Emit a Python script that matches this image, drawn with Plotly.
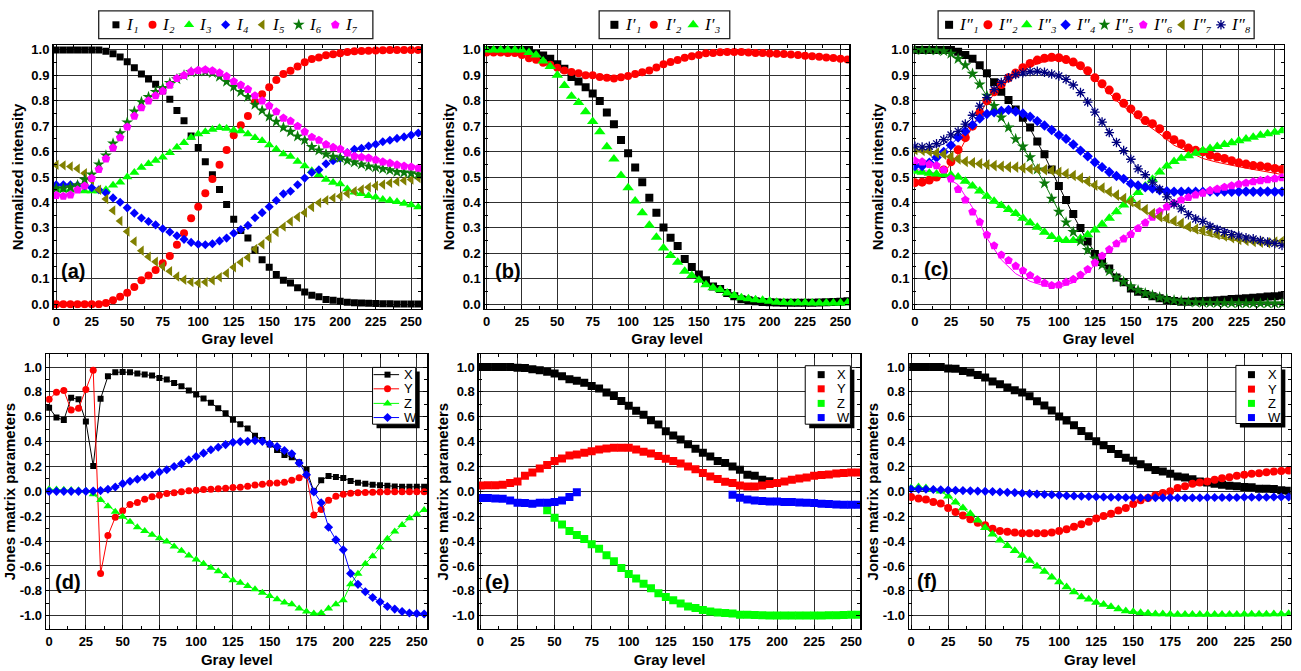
import plotly.graph_objects as go

FIG_W, FIG_H = 1301, 671

# ---------------- data ----------------
GRAY = list(range(0, 256, 5))
FIT_GRAY = list(range(0, 251, 10)) + [255]

X_TICKS = [0, 25, 50, 75, 100, 125, 150, 175, 200, 225, 250]
X_TICK_TEXT = ['0', '25', '50', '75', '100', '125', '150', '175', '200', '225', '250']
Y_TICKS_TOP = [0.0, 0.1, 0.2, 0.3, 0.4, 0.5, 0.6, 0.7, 0.8, 0.9, 1.0]
Y_TICK_TEXT_TOP = ['0.0', '0.1', '0.2', '0.3', '0.4', '0.5', '0.6', '0.7', '0.8', '0.9', '1.0']
Y_TICKS_BOTTOM = [-1.0, -0.8, -0.6, -0.4, -0.2, 0.0, 0.2, 0.4, 0.6, 0.8, 1.0]
Y_TICK_TEXT_BOTTOM = ['-1.0', '-0.8', '-0.6', '-0.4', '-0.2', '0.0', '0.2', '0.4', '0.6', '0.8', '1.0']

LABELS_A = ['I₁', 'I₂', 'I₃', 'I₄', 'I₅', 'I₆', 'I₇']
LABELS_B = ['I′₁', 'I′₂', 'I′₃']
LABELS_C = ['I″₁', 'I″₂', 'I″₃', 'I″₄', 'I″₅', 'I″₆', 'I″₇', 'I″₈']
LABELS_JONES = ['X', 'Y', 'Z', 'W']

# panel (a)
A_I1 = [1.0, 1.0, 1.0, 1.0, 1.0, 1.0, 1.0, 0.995, 0.985, 0.972,
        0.953, 0.93, 0.905, 0.886, 0.865, 0.839, 0.806, 0.762, 0.721, 0.661,
        0.616, 0.56, 0.509, 0.451, 0.392, 0.334, 0.29, 0.26, 0.213, 0.175,
        0.145, 0.117, 0.094, 0.083, 0.065, 0.048, 0.035, 0.029, 0.019, 0.016,
        0.012, 0.008, 0.006, 0.005, 0.004, 0.003, 0.002, 0.002, 0.001, 0.001,
        0.001, 0.001]
A_I2 = [0.0, 0.0, 0.0, 0.0, 0.0, 0.0, 0.0, 0.005, 0.016, 0.029,
        0.045, 0.068, 0.094, 0.113, 0.135, 0.161, 0.19, 0.234, 0.279, 0.338,
        0.383, 0.436, 0.492, 0.548, 0.606, 0.664, 0.704, 0.74, 0.795, 0.826,
        0.853, 0.882, 0.905, 0.918, 0.935, 0.951, 0.964, 0.97, 0.979, 0.983,
        0.987, 0.992, 0.995, 0.996, 0.997, 0.998, 0.999, 1.0, 1.0, 1.0,
        1.0, 1.0]
A_I3 = [0.455, 0.45, 0.45, 0.448, 0.445, 0.445, 0.445, 0.45, 0.468, 0.48,
        0.5, 0.518, 0.538, 0.552, 0.565, 0.578, 0.596, 0.617, 0.635, 0.656,
        0.669, 0.678, 0.687, 0.694, 0.691, 0.684, 0.681, 0.669, 0.655, 0.643,
        0.626, 0.609, 0.591, 0.581, 0.561, 0.543, 0.525, 0.509, 0.49, 0.479,
        0.473, 0.453, 0.44, 0.434, 0.427, 0.421, 0.412, 0.408, 0.403, 0.396,
        0.39, 0.382]
A_I4 = [0.47, 0.47, 0.47, 0.468, 0.465, 0.458, 0.45, 0.438, 0.418, 0.401,
        0.379, 0.358, 0.339, 0.325, 0.312, 0.297, 0.284, 0.269, 0.255, 0.243,
        0.236, 0.234, 0.238, 0.249, 0.26, 0.279, 0.294, 0.31, 0.34, 0.36,
        0.383, 0.408, 0.434, 0.444, 0.47, 0.496, 0.518, 0.529, 0.552, 0.564,
        0.574, 0.596, 0.609, 0.613, 0.622, 0.629, 0.639, 0.645, 0.652, 0.658,
        0.665, 0.673]
A_I5 = [0.548, 0.546, 0.542, 0.533, 0.515, 0.488, 0.45, 0.414, 0.369, 0.327,
        0.286, 0.247, 0.21, 0.187, 0.167, 0.149, 0.13, 0.109, 0.096, 0.087,
        0.083, 0.087, 0.094, 0.106, 0.122, 0.145, 0.165, 0.184, 0.217, 0.236,
        0.26, 0.284, 0.305, 0.325, 0.343, 0.36, 0.382, 0.399, 0.409, 0.418,
        0.425, 0.435, 0.444, 0.451, 0.46, 0.466, 0.471, 0.477, 0.482, 0.486,
        0.49, 0.496]
A_I6 = [0.455, 0.455, 0.46, 0.468, 0.49, 0.51, 0.55, 0.585, 0.632, 0.672,
        0.715, 0.758, 0.795, 0.815, 0.835, 0.85, 0.87, 0.885, 0.9, 0.912,
        0.917, 0.915, 0.91, 0.895, 0.875, 0.855, 0.835, 0.815, 0.785, 0.762,
        0.738, 0.718, 0.695, 0.678, 0.66, 0.645, 0.618, 0.605, 0.59, 0.58,
        0.575, 0.565, 0.558, 0.55, 0.542, 0.538, 0.532, 0.527, 0.52, 0.518,
        0.515, 0.51]
A_I7 = [0.428, 0.425, 0.43, 0.45, 0.465, 0.495, 0.53, 0.572, 0.615, 0.655,
        0.697, 0.74, 0.773, 0.8, 0.82, 0.838, 0.862, 0.888, 0.9, 0.915,
        0.92, 0.922, 0.918, 0.91, 0.896, 0.876, 0.862, 0.845, 0.82, 0.8,
        0.78, 0.757, 0.732, 0.72, 0.7, 0.678, 0.657, 0.645, 0.628, 0.617,
        0.61, 0.595, 0.582, 0.578, 0.575, 0.568, 0.56, 0.555, 0.548, 0.543,
        0.54, 0.535]

# panel (b)
B_I1 = [1.0, 1.0, 1.0, 1.0, 1.0, 1.0, 1.0, 0.984, 0.978, 0.965,
        0.944, 0.926, 0.893, 0.876, 0.853, 0.829, 0.799, 0.754, 0.708, 0.646,
        0.594, 0.538, 0.48, 0.419, 0.36, 0.302, 0.261, 0.229, 0.178, 0.146,
        0.117, 0.094, 0.07, 0.06, 0.044, 0.031, 0.02, 0.016, 0.012, 0.009,
        0.008, 0.007, 0.006, 0.006, 0.006, 0.006, 0.006, 0.007, 0.008, 0.009,
        0.01, 0.012]
B_I2 = [0.99, 0.99, 0.99, 0.988, 0.988, 0.98, 0.967, 0.961, 0.949, 0.942,
        0.93, 0.919, 0.913, 0.908, 0.9, 0.9, 0.893, 0.89, 0.888, 0.892,
        0.897, 0.905, 0.912, 0.919, 0.931, 0.944, 0.952, 0.96, 0.969, 0.975,
        0.98, 0.987, 0.988, 0.991, 0.992, 0.992, 0.992, 0.99, 0.988, 0.988,
        0.986, 0.985, 0.984, 0.982, 0.98, 0.977, 0.975, 0.973, 0.97, 0.968,
        0.965, 0.962]
B_I3 = [1.0, 1.0, 1.0, 1.0, 1.0, 1.0, 0.99, 0.98, 0.956, 0.935,
        0.9, 0.86, 0.818, 0.793, 0.757, 0.718, 0.678, 0.619, 0.571, 0.506,
        0.458, 0.406, 0.36, 0.311, 0.263, 0.221, 0.192, 0.165, 0.13, 0.113,
        0.094, 0.077, 0.065, 0.057, 0.044, 0.034, 0.025, 0.022, 0.018, 0.016,
        0.012, 0.008, 0.007, 0.006, 0.006, 0.006, 0.005, 0.005, 0.005, 0.005,
        0.005, 0.006]

# panel (c) measured points
C_I1 = [1.0, 1.0, 1.0, 1.0, 1.0, 1.0, 0.993, 0.98, 0.965, 0.94,
        0.908, 0.873, 0.835, 0.803, 0.766, 0.733, 0.695, 0.64, 0.59, 0.53,
        0.465, 0.41, 0.355, 0.3, 0.247, 0.197, 0.166, 0.14, 0.105, 0.086,
        0.062, 0.049, 0.04, 0.031, 0.023, 0.017, 0.013, 0.01, 0.01, 0.012,
        0.013, 0.014, 0.016, 0.018, 0.021, 0.022, 0.023, 0.025, 0.027, 0.03,
        0.031, 0.034]
C_I2 = [0.478, 0.48, 0.488, 0.5, 0.528, 0.56, 0.607, 0.655, 0.7, 0.753,
        0.8, 0.835, 0.864, 0.89, 0.909, 0.93, 0.947, 0.96, 0.967, 0.971,
        0.969, 0.962, 0.952, 0.938, 0.918, 0.89, 0.867, 0.842, 0.815, 0.79,
        0.768, 0.745, 0.722, 0.71, 0.69, 0.664, 0.647, 0.631, 0.614, 0.605,
        0.599, 0.586, 0.579, 0.573, 0.564, 0.556, 0.551, 0.545, 0.543, 0.54,
        0.534, 0.53]
C_I3 = [0.523, 0.519, 0.515, 0.512, 0.51, 0.508, 0.5, 0.484, 0.465, 0.445,
        0.425, 0.405, 0.388, 0.372, 0.357, 0.338, 0.32, 0.303, 0.283, 0.266,
        0.254, 0.251, 0.251, 0.258, 0.273, 0.292, 0.314, 0.338, 0.364, 0.39,
        0.413, 0.439, 0.465, 0.491, 0.52, 0.543, 0.561, 0.574, 0.584, 0.594,
        0.604, 0.612, 0.62, 0.628, 0.635, 0.643, 0.65, 0.657, 0.664, 0.67,
        0.676, 0.682]
C_I4 = [0.543, 0.543, 0.556, 0.577, 0.599, 0.625, 0.656, 0.68, 0.705, 0.73,
        0.748, 0.755, 0.76, 0.764, 0.758, 0.75, 0.737, 0.72, 0.703, 0.685,
        0.665, 0.65, 0.628, 0.604, 0.582, 0.558, 0.539, 0.52, 0.504, 0.493,
        0.474, 0.467, 0.46, 0.455, 0.448, 0.444, 0.442, 0.442, 0.442, 0.442,
        0.442, 0.443, 0.442, 0.443, 0.442, 0.442, 0.443, 0.442, 0.442, 0.443,
        0.442, 0.442]
C_I5 = [1.0, 1.0, 1.0, 0.998, 0.995, 0.985, 0.965, 0.94, 0.906, 0.864,
        0.82, 0.78, 0.734, 0.695, 0.649, 0.62, 0.578, 0.53, 0.475, 0.415,
        0.364, 0.322, 0.284, 0.248, 0.213, 0.18, 0.155, 0.13, 0.105, 0.088,
        0.07, 0.055, 0.043, 0.035, 0.027, 0.02, 0.015, 0.012, 0.009, 0.007,
        0.006, 0.005, 0.005, 0.004, 0.004, 0.004, 0.003, 0.003, 0.003, 0.003,
        0.003, 0.003]
C_I6 = [0.564, 0.56, 0.55, 0.545, 0.528, 0.493, 0.452, 0.41, 0.363, 0.323,
        0.273, 0.23, 0.194, 0.172, 0.15, 0.132, 0.113, 0.097, 0.083, 0.074,
        0.076, 0.087, 0.098, 0.115, 0.137, 0.163, 0.19, 0.215, 0.238, 0.257,
        0.275, 0.298, 0.32, 0.343, 0.365, 0.383, 0.397, 0.41, 0.42, 0.43,
        0.437, 0.447, 0.453, 0.46, 0.466, 0.472, 0.477, 0.482, 0.486, 0.49,
        0.494, 0.498]
C_I7 = [0.608, 0.605, 0.601, 0.595, 0.59, 0.58, 0.571, 0.561, 0.556, 0.552,
        0.548, 0.545, 0.542, 0.539, 0.539, 0.536, 0.532, 0.532, 0.529, 0.526,
        0.519, 0.513, 0.506, 0.496, 0.483, 0.468, 0.457, 0.442, 0.429, 0.416,
        0.403, 0.39, 0.372, 0.357, 0.344, 0.338, 0.327, 0.318, 0.305, 0.296,
        0.29, 0.283, 0.274, 0.268, 0.261, 0.255, 0.251, 0.247, 0.244, 0.242,
        0.245, 0.248]
C_I8 = [0.621, 0.618, 0.621, 0.631, 0.647, 0.666, 0.68, 0.708, 0.743, 0.779,
        0.812, 0.844, 0.872, 0.89, 0.903, 0.91, 0.915, 0.916, 0.912, 0.905,
        0.898, 0.884, 0.862, 0.832, 0.795, 0.755, 0.716, 0.675, 0.636, 0.604,
        0.57, 0.532, 0.509, 0.48, 0.452, 0.422, 0.394, 0.375, 0.352, 0.335,
        0.326, 0.306, 0.294, 0.283, 0.274, 0.268, 0.261, 0.257, 0.25, 0.244,
        0.239, 0.231]

# panel (c) fitted curves (sampled at FIT_GRAY)
C_F1 = [1.0, 1.0, 1.0, 0.993, 0.963, 0.905, 0.835, 0.765, 0.69, 0.585, 0.465, 0.35, 0.245, 0.165,
        0.108, 0.065, 0.04, 0.025, 0.015, 0.01, 0.01, 0.012, 0.015, 0.018, 0.02, 0.022, 0.024]
C_F2 = [0.478, 0.485, 0.515, 0.59, 0.7, 0.795, 0.855, 0.9, 0.935, 0.955, 0.96, 0.945, 0.91, 0.86,
        0.8, 0.755, 0.71, 0.67, 0.625, 0.6, 0.573, 0.558, 0.545, 0.535, 0.525, 0.514, 0.51]
C_F3 = [0.52, 0.513, 0.508, 0.498, 0.462, 0.42, 0.383, 0.35, 0.315, 0.28, 0.252, 0.25, 0.272, 0.314,
        0.364, 0.414, 0.465, 0.52, 0.56, 0.584, 0.604, 0.62, 0.635, 0.65, 0.664, 0.676, 0.682]
C_F4 = [0.55, 0.56, 0.6, 0.655, 0.71, 0.748, 0.76, 0.757, 0.735, 0.702, 0.663, 0.628, 0.583, 0.538,
        0.503, 0.476, 0.46, 0.45, 0.445, 0.445, 0.446, 0.447, 0.448, 0.449, 0.45, 0.45, 0.45]
C_F5 = [1.0, 1.0, 0.995, 0.965, 0.905, 0.82, 0.733, 0.648, 0.575, 0.475, 0.365, 0.285, 0.213, 0.155,
        0.105, 0.07, 0.043, 0.027, 0.015, 0.009, 0.006, 0.005, 0.004, 0.004, 0.003, 0.003, 0.003]
C_F6 = [0.53, 0.522, 0.505, 0.47, 0.38, 0.26, 0.175, 0.12, 0.09, 0.072, 0.066, 0.085, 0.125, 0.185,
        0.24, 0.285, 0.33, 0.365, 0.395, 0.418, 0.435, 0.452, 0.463, 0.473, 0.481, 0.488, 0.49]
C_F7 = [0.6, 0.595, 0.585, 0.57, 0.555, 0.547, 0.541, 0.537, 0.532, 0.527, 0.517, 0.503, 0.48, 0.455,
        0.425, 0.395, 0.362, 0.335, 0.315, 0.293, 0.275, 0.262, 0.252, 0.245, 0.238, 0.232, 0.229]
C_F8 = [0.605, 0.61, 0.63, 0.675, 0.735, 0.81, 0.865, 0.895, 0.91, 0.91, 0.895, 0.862, 0.8, 0.72,
        0.635, 0.565, 0.51, 0.46, 0.405, 0.36, 0.33, 0.305, 0.285, 0.268, 0.253, 0.24, 0.235]

# panel (d)
D_X = [0.673, 0.593, 0.574, 0.753, 0.74, 0.562, 0.203, 0.745, 0.925, 0.957,
       0.96, 0.957, 0.947, 0.939, 0.931, 0.912, 0.899, 0.872, 0.846, 0.811,
       0.779, 0.747, 0.713, 0.668, 0.628, 0.575, 0.54, 0.506, 0.447, 0.413,
       0.376, 0.333, 0.293, 0.275, 0.235, 0.174, 0.0, 0.089, 0.123, 0.115,
       0.107, 0.083, 0.07, 0.062, 0.054, 0.049, 0.044, 0.038, 0.036, 0.036,
       0.036, 0.036]
D_Y = [0.74, 0.798, 0.811, 0.654, 0.668, 0.819, 0.973, -0.661, -0.355, -0.209,
       -0.156, -0.105, -0.089, -0.063, -0.044, -0.031, -0.018, -0.012, -0.004, 0.004,
       0.009, 0.014, 0.017, 0.02, 0.025, 0.03, 0.033, 0.041, 0.052, 0.057,
       0.065, 0.067, 0.073, 0.089, 0.11, 0.13, -0.19, -0.146, -0.072, -0.04,
       -0.024, -0.016, -0.012, -0.01, -0.008, -0.005, -0.004, -0.003, -0.003, -0.003,
       -0.003, -0.003]
D_Z = [0.017, 0.015, 0.013, 0.01, 0.008, 0.005, -0.024, -0.07, -0.119, -0.164,
       -0.204, -0.244, -0.289, -0.318, -0.35, -0.377, -0.403, -0.443, -0.477, -0.517,
       -0.549, -0.583, -0.615, -0.642, -0.681, -0.716, -0.735, -0.761, -0.788, -0.815,
       -0.841, -0.868, -0.895, -0.908, -0.942, -0.966, -0.982, -0.979, -0.942, -0.908,
       -0.876, -0.748, -0.663, -0.583, -0.522, -0.45, -0.381, -0.323, -0.27, -0.217,
       -0.185, -0.15]
D_W = [0.0, 0.0, 0.0, 0.0, 0.0, 0.0, 0.002, 0.006, 0.017, 0.035,
       0.062, 0.081, 0.097, 0.115, 0.134, 0.155, 0.174, 0.2, 0.222, 0.254,
       0.28, 0.307, 0.334, 0.355, 0.376, 0.394, 0.4, 0.402, 0.408, 0.402,
       0.381, 0.36, 0.328, 0.302, 0.227, 0.134, -0.004, -0.092, -0.289, -0.39,
       -0.47, -0.661, -0.748, -0.807, -0.854, -0.889, -0.926, -0.947, -0.966, -0.979,
       -0.982, -0.987]

# panel (e)  (None = no point shown)
E_X = [1.0, 1.0, 1.0, 1.0, 1.0, 0.995, 0.992, 0.982, 0.974, 0.961,
       0.947, 0.926, 0.902, 0.889, 0.873, 0.847, 0.828, 0.794, 0.767, 0.727,
       0.688, 0.648, 0.616, 0.571, 0.537, 0.484, 0.449, 0.417, 0.378, 0.343,
       0.311, 0.28, 0.245, 0.227, 0.2, 0.174, 0.134, 0.126, 0.094, 0.081,
       0.068, None, None, None, None, None, None, None, None, None,
       None, None]
E_Y = [0.046, 0.05, 0.05, 0.054, 0.067, 0.08, 0.125, 0.152, 0.183, 0.212,
       0.244, 0.265, 0.289, 0.297, 0.31, 0.323, 0.337, 0.345, 0.35, 0.35,
       0.35, 0.337, 0.318, 0.305, 0.284, 0.263, 0.244, 0.223, 0.2, 0.178,
       0.147, 0.12, 0.099, 0.078, 0.067, 0.046, 0.038, 0.038, 0.046, 0.059,
       0.068, 0.08, 0.094, 0.104, 0.112, 0.125, 0.131, 0.136, 0.144, 0.147,
       0.152, 0.152]
E_Z = [None, None, None, None, None, None, None, None, None, -0.152,
       -0.213, -0.266, -0.319, -0.351, -0.383, -0.425, -0.462, -0.515, -0.563, -0.616,
       -0.664, -0.701, -0.743, -0.78, -0.82, -0.849, -0.876, -0.902, -0.926, -0.939,
       -0.955, -0.966, -0.974, -0.979, -0.982, -0.992, -0.993, -0.995, -0.997, -0.998,
       -0.998, -0.999, -0.999, -0.999, -0.999, -0.998, -0.998, -0.997, -0.996, -0.994,
       -0.993, -0.992]
E_W = [-0.054, -0.054, -0.058, -0.06, -0.073, -0.091, -0.094, -0.099, -0.091, -0.091,
       -0.086, -0.073, -0.046, -0.007, None, None, None, None, None, None,
       None, None, None, None, None, None, None, None, None, None,
       None, None, None, None, -0.028, -0.052, -0.065, -0.073, -0.078, -0.081,
       -0.081, -0.086, -0.086, -0.089, -0.091, -0.094, -0.099, -0.102, -0.105, -0.107,
       -0.107, -0.107]

# panel (f)
F_X = [1.0, 1.0, 1.0, 1.0, 1.0, 0.989, 0.987, 0.968, 0.955, 0.936,
       0.915, 0.883, 0.862, 0.836, 0.814, 0.796, 0.764, 0.724, 0.69, 0.65,
       0.602, 0.57, 0.531, 0.485, 0.443, 0.403, 0.371, 0.34, 0.3, 0.271,
       0.247, 0.218, 0.194, 0.172, 0.159, 0.141, 0.119, 0.111, 0.098, 0.08,
       0.072, 0.061, 0.053, 0.045, 0.04, 0.034, 0.032, 0.021, 0.021, 0.019,
       0.008, 0.005]
F_Y = [-0.045, -0.058, -0.066, -0.085, -0.098, -0.133, -0.167, -0.194, -0.225, -0.252,
       -0.273, -0.3, -0.318, -0.326, -0.332, -0.337, -0.337, -0.337, -0.337, -0.332,
       -0.318, -0.305, -0.284, -0.265, -0.244, -0.218, -0.199, -0.18, -0.154, -0.133,
       -0.101, -0.072, -0.053, -0.032, -0.013, 0.0, 0.027, 0.04, 0.061, 0.072,
       0.08, 0.093, 0.106, 0.114, 0.125, 0.133, 0.141, 0.146, 0.154, 0.159,
       0.164, 0.167]
F_Z = [0.027, 0.034, 0.027, 0.013, 0.0, -0.04, -0.088, -0.133, -0.18, -0.233,
       -0.292, -0.345, -0.393, -0.438, -0.477, -0.517, -0.557, -0.602, -0.645, -0.69,
       -0.729, -0.769, -0.809, -0.849, -0.867, -0.894, -0.91, -0.928, -0.947, -0.963,
       -0.968, -0.976, -0.981, -0.987, -0.987, -0.989, -0.99, -0.99, -0.99, -0.99,
       -0.99, -0.99, -0.99, -0.99, -0.99, -0.989, -0.989, -0.988, -0.988, -0.987,
       -0.986, -0.985]
F_W = [0.019, 0.018, 0.017, 0.015, 0.013, 0.01, 0.008, 0.006, 0.004, 0.002,
       0.0, -0.002, -0.005, -0.008, -0.01, -0.015, -0.018, -0.022, -0.025, -0.028,
       -0.032, -0.035, -0.038, -0.04, -0.042, -0.044, -0.046, -0.047, -0.048, -0.049,
       -0.05, -0.051, -0.051, -0.052, -0.052, -0.052, -0.052, -0.052, -0.051, -0.051,
       -0.05, -0.05, -0.05, -0.049, -0.049, -0.048, -0.048, -0.047, -0.047, -0.046,
       -0.046, -0.045]

# ---------------- styles ----------------
BLACK, RED, GREEN, BLUE = '#000000', '#ff0000', '#00ff00', '#0000ff'
OLIVE, DKGREEN, MAGENTA, NAVY = '#808000', '#0b7a0b', '#ff00ff', '#000080'
SANS = 'Liberation Sans'
SERIF = 'Liberation Serif'

# plot frames in pixels: left, right, top, bottom
FRAMES = {
    1: (51.7, 420.7, 42.7, 308.3),
    2: (484.3, 850.0, 42.7, 308.3),
    3: (914.3, 1285.7, 42.7, 308.3),
    4: (44.3, 426.7, 354.5, 631.5),
    5: (478.3, 861.0, 354.5, 631.5),
    6: (910.0, 1292.7, 354.5, 631.5),
}
X_RANGES = {1: [-1.9, 257.2], 2: [-1.2, 256.3], 3: [-1.0, 256.2],
            4: [-2.0, 257.2], 5: [-1.1, 256.2], 6: [-1.3, 256.4]}
Y_RANGE_TOP = [-0.017, 1.018]
Y_RANGE_BOTTOM = [-1.106, 1.102]
PANEL_LABELS = {1: ('(a)', 0.054, 0.143), 2: ('(b)', 0.063, 0.143), 3: ('(c)', 0.062, 0.15),
                4: ('(d)', 0.057, 0.172), 5: ('(e)', 0.048, 0.172), 6: ('(f)', 0.046, 0.173)}

fig = go.Figure()


def sfx(i):
    return '' if i == 1 else str(i)


def add(i, x, y, color, symbol=None, size=8, mode='markers', lw=1.0, name=None):
    kw = dict(x=x, y=y, mode=mode, name=name, showlegend=False,
              xaxis='x' + sfx(i), yaxis='y' + sfx(i), hoverinfo='skip',
              line=dict(color=color, width=lw))
    if symbol is not None:
        m = dict(color=color, symbol=symbol, size=size, line=dict(width=0))
        if symbol.endswith('-open'):
            m['line'] = dict(width=1.3, color=color)
        kw['marker'] = m
    fig.add_trace(go.Scatter(**kw))


# (a)
SER_A = [(A_I1, BLACK, 'square', 7), (A_I2, RED, 'circle', 8), (A_I3, GREEN, 'triangle-up', 9),
         (A_I4, BLUE, 'diamond', 7), (A_I5, OLIVE, 'triangle-left', 9), (A_I6, DKGREEN, 'star', 9),
         (A_I7, MAGENTA, 'pentagon', 9)]
for (vals, c, s, z), nm in zip(SER_A, LABELS_A):
    add(1, GRAY, vals, c, s, z, name=nm)

# (b)
SER_B = [(B_I1, BLACK, 'square', 8), (B_I2, RED, 'circle', 8), (B_I3, GREEN, 'triangle-up', 10)]
for (vals, c, s, z), nm in zip(SER_B, LABELS_B):
    add(2, GRAY, vals, c, s, z, name=nm)

# (c)
SER_C = [(C_I1, C_F1, BLACK, 'square', 8), (C_I2, C_F2, RED, 'circle', 9),
         (C_I3, C_F3, GREEN, 'triangle-up', 10), (C_I4, C_F4, BLUE, 'diamond', 8),
         (C_I5, C_F5, DKGREEN, 'star', 9), (C_I6, C_F6, MAGENTA, 'pentagon', 9),
         (C_I7, C_F7, OLIVE, 'triangle-left', 10), (C_I8, C_F8, NAVY, 'asterisk-open', 8)]
for (vals, fit, c, s, z), nm in zip(SER_C, LABELS_C):
    add(3, FIT_GRAY, fit, c, mode='lines', lw=1.0, name='fit ' + nm)
for (vals, fit, c, s, z), nm in zip(SER_C, LABELS_C):
    add(3, GRAY, vals, c, s, z, name=nm)

# (d)
SER_D = [(D_X, BLACK, 'square', 6), (D_Y, RED, 'circle', 7),
         (D_Z, GREEN, 'triangle-up', 8), (D_W, BLUE, 'diamond', 7)]
for (vals, c, s, z), nm in zip(SER_D, LABELS_JONES):
    add(4, GRAY, vals, c, s, z, mode='lines+markers', lw=1.0, name=nm)

# (e)
SER_E = [(E_X, BLACK, 'square', 8), (E_Y, RED, 'square', 8),
         (E_Z, GREEN, 'square', 8), (E_W, BLUE, 'square', 8)]
for (vals, c, s, z), nm in zip(SER_E, LABELS_JONES):
    add(5, GRAY, vals, c, s, z, name=nm)

# (f)
SER_F = [(F_X, BLACK, 'square', 8), (F_Y, RED, 'circle', 8),
         (F_Z, GREEN, 'triangle-up', 9), (F_W, BLUE, 'diamond', 7)]
for (vals, c, s, z), nm in zip(SER_F, LABELS_JONES):
    add(6, GRAY, vals, c, s, z, mode='lines+markers', lw=1.0, name=nm)

# ---------------- legends (drawn on a helper axis in pixel units) ----------------
shapes = []
annotations = []

TOP_LEGENDS = [
    dict(box=(97, 372, 8, 36), x0=114.3, step=36.67, dx=8.0,
         items=[(nm, c, s, z) for (v, c, s, z), nm in zip(SER_A, LABELS_A)]),
    dict(box=(599, 730, 8, 36), x0=614.3, step=39.5, dx=9.0,
         items=[(nm, c, s, z) for (v, c, s, z), nm in zip(SER_B, LABELS_B)]),
    dict(box=(939, 1256, 8, 36), x0=950.0, step=38.96, dx=8.0,
         items=[(nm, c, s, z) for (v, f, c, s, z), nm in zip(SER_C, LABELS_C)]),
]
LEG_Y = 22.0
for lg in TOP_LEGENDS:
    bx0, bx1, by0, by1 = lg['box']
    shapes.append(dict(type='rect', xref='x7', yref='y7', x0=bx0, x1=bx1, y0=by0, y1=by1,
                       line=dict(color='#222222', width=1.3), fillcolor='white', layer='below'))
    for k, (txt, c, s, z) in enumerate(lg['items']):
        xs = lg['x0'] + k * lg['step']
        add(7, [xs], [LEG_Y], c, s, z)
        annotations.append(dict(xref='x7', yref='y7', x=xs + lg['dx'], y=LEG_Y, text=txt,
                                showarrow=False, xanchor='left', yanchor='middle',
                                font=dict(family=SERIF, size=17, color='black', style='italic')))

BOTTOM_LEGENDS = [
    dict(box=(371.7, 415.0, 367.7, 425.0), sx=386.7, seg=(372.7, 398.3), tx=401.0,
         ys=[375.0, 389.3, 404.0, 418.3], items=[(c, s, z) for v, c, s, z in SER_D]),
    dict(box=(805.7, 851.0, 366.0, 425.0), sx=821.7, seg=None, tx=835.5,
         ys=[375.0, 389.3, 404.0, 418.3], items=[(c, 'square', 7) for v, c, s, z in SER_E]),
    dict(box=(1237.7, 1283.3, 365.7, 424.3), sx=1253.3, seg=None, tx=1268.0,
         ys=[375.0, 389.6, 404.0, 418.3], items=[(c, 'square', 7) for v, c, s, z in SER_F]),
]
SHADOW = 4.0
for lg in BOTTOM_LEGENDS:
    bx0, bx1, by0, by1 = lg['box']
    shapes.append(dict(type='rect', xref='x7', yref='y7', x0=bx0 + SHADOW, x1=bx1 + SHADOW,
                       y0=by0 + SHADOW, y1=by1 + SHADOW, line=dict(width=0),
                       fillcolor='black', layer='below'))
    shapes.append(dict(type='rect', xref='x7', yref='y7', x0=bx0, x1=bx1, y0=by0, y1=by1,
                       line=dict(color='black', width=1), fillcolor='white', layer='below'))
    for (c, s, z), nm, yc in zip(lg['items'], LABELS_JONES, lg['ys']):
        if lg['seg'] is not None:
            add(7, list(lg['seg']), [yc, yc], c, mode='lines', lw=1.0)
        add(7, [lg['sx']], [yc], c, s, z)
        annotations.append(dict(xref='x7', yref='y7', x=lg['tx'], y=yc, text=nm, showarrow=False,
                                xanchor='left', yanchor='middle',
                                font=dict(family=SANS, size=13, color='black')))

# ---------------- axes ----------------
common = dict(showline=True, linecolor='black', linewidth=1.5, mirror='allticks',
              showgrid=True, gridcolor='#303030', gridwidth=1, zeroline=False,
              ticks='inside', ticklen=4, tickwidth=1, tickcolor='black',
              tickfont=dict(family=SANS, size=13, color='black', weight='bold'),
              fixedrange=True)
title_font = dict(family=SANS, size=15, color='black', weight='bold')

layout = dict(width=FIG_W, height=FIG_H, margin=dict(l=0, r=0, t=0, b=0),
              paper_bgcolor='white', plot_bgcolor='rgba(0,0,0,0)', autosize=False,
              showlegend=False)

for i in range(1, 7):
    l, r, t, b = FRAMES[i]
    top = i <= 3
    xa = dict(common, domain=[l / FIG_W, r / FIG_W], range=X_RANGES[i], anchor='y' + sfx(i),
              tickmode='array', tickvals=X_TICKS, ticktext=X_TICK_TEXT,
              minor=dict(tickmode='linear', tick0=0, dtick=12.5, ticks='inside', ticklen=3,
                         tickcolor='black', showgrid=False),
              title=dict(text='Gray level', font=title_font, standoff=6))
    ya = dict(common, domain=[1 - b / FIG_H, 1 - t / FIG_H],
              range=Y_RANGE_TOP if top else Y_RANGE_BOTTOM, anchor='x' + sfx(i),
              tickmode='array',
              tickvals=Y_TICKS_TOP if top else Y_TICKS_BOTTOM,
              ticktext=Y_TICK_TEXT_TOP if top else Y_TICK_TEXT_BOTTOM,
              minor=dict(tickmode='linear', tick0=0, dtick=0.05 if top else 0.1, ticks='inside',
                         ticklen=3, tickcolor='black', showgrid=False),
              title=dict(text='Normalized intensity' if top else 'Jones matrix parameters',
                         font=title_font, standoff=4 if top else 0))
    layout['xaxis' + sfx(i)] = xa
    layout['yaxis' + sfx(i)] = ya
    txt, lx, ly = PANEL_LABELS[i]
    annotations.append(dict(xref='x%s domain' % sfx(i), yref='y%s domain' % sfx(i), x=lx, y=ly,
                            text=txt, showarrow=False, xanchor='center', yanchor='middle',
                            font=dict(family=SANS, size=20, color='black', weight='bold')))

# helper axis covering the whole figure in pixel units (used only for the legend boxes)
layout['xaxis7'] = dict(domain=[0, 1], range=[0, FIG_W], visible=False, fixedrange=True, anchor='y7')
layout['yaxis7'] = dict(domain=[0, 1], range=[FIG_H, 0], visible=False, fixedrange=True, anchor='x7')

layout['shapes'] = shapes
layout['annotations'] = annotations
fig.update_layout(**layout)

fig.write_html("out.html", config={'displayModeBar': False, 'staticPlot': True},
               post_script="document.body.style.margin='0';")
